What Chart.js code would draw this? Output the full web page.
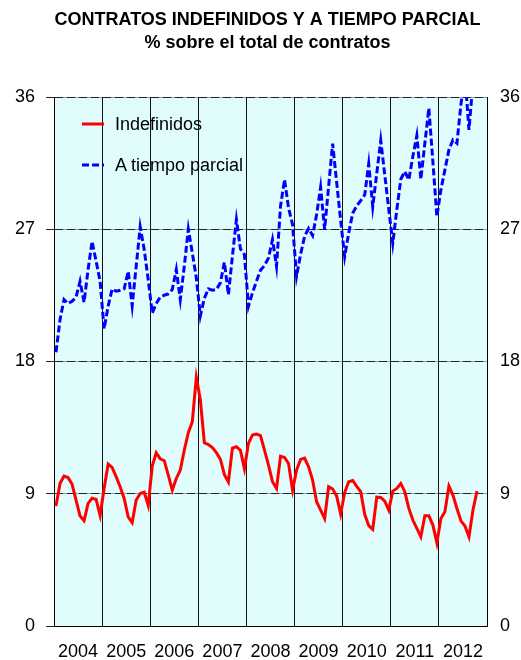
<!DOCTYPE html>
<html>
<head>
<meta charset="utf-8">
<script src="https://cdn.jsdelivr.net/npm/chart.js@4.4.0/dist/chart.umd.min.js"></script>
<style>
  html, body { margin: 0; padding: 0; background: #fff; }
  #wrap { position: relative; width: 521px; height: 660px; }
  #legend { position: absolute; left: 82px; top: 112px; font: 18px 'Liberation Sans', Arial, sans-serif; color: #000; }
  #legend .row { display: flex; align-items: center; height: 24px; white-space: nowrap; }
  #legend .row + .row { margin-top: 17px; }
  #legend svg { margin-right: 11px; }
</style>
</head>
<body>
<div id="wrap">
  <canvas id="chart" width="521" height="660"></canvas>
  <div id="legend">
    <div class="row"><svg width="22" height="4"><line x1="0" y1="2" x2="22" y2="2" stroke="#ff0000" stroke-width="3"/></svg>Indefinidos</div>
    <div class="row"><svg width="22" height="4"><line x1="0" y1="2" x2="22" y2="2" stroke="#0000ff" stroke-width="3" stroke-dasharray="7,3"/></svg>A tiempo parcial</div>
  </div>
</div>
<script>
// --- Data (monthly, Jan 2004 .. Oct 2012) ---
const years = ['2004', '2005', '2006', '2007', '2008', '2009', '2010', '2011', '2012'];

const indefinidos = [
  8.16, 9.7, 10.2, 10.1, 9.66, 8.57, 7.48, 7.16, 8.34, 8.7, 8.61, 7.52,
  9.36, 11.02, 10.79, 10.16, 9.48, 8.68, 7.43, 7.03, 8.57, 9.02, 9.11, 8.21,
  10.88, 11.79, 11.38, 11.25, 10.27, 9.25, 10.04, 10.61, 11.97, 13.15, 13.9, 16.92,
  15.4, 12.47, 12.35, 12.15, 11.8, 11.35, 10.3, 9.8, 12.1, 12.2, 11.95, 10.7,
  12.43, 12.99, 13.06, 12.95, 11.97, 10.95, 9.82, 9.36, 11.56, 11.47, 11.06, 9.25,
  10.61, 11.34, 11.43, 10.84, 9.93, 8.46, 7.89, 7.32, 9.48, 9.32, 8.84, 7.62,
  9.08, 9.82, 9.9, 9.5, 9.14, 7.6, 6.83, 6.57, 8.77, 8.75, 8.5, 7.89,
  9.18, 9.36, 9.7, 9.14, 8.0, 7.21, 6.64, 6.07, 7.5, 7.5, 6.87, 5.66,
  7.32, 7.77, 9.52, 8.91, 8.0, 7.16, 6.8, 6.07, 7.89, 9.18
];

const parcial = [
  18.63, 20.85, 22.21, 21.94, 22.1, 22.37, 23.46, 22.03, 24.25, 26.18, 24.82, 23.46,
  20.22, 21.76, 22.94, 22.78, 22.85, 22.94, 24.14, 21.8, 24.48, 27.16, 25.62, 23.57,
  21.3, 21.94, 22.39, 22.51, 22.6, 22.89, 24.25, 22.21, 24.48, 27.02, 25.39, 23.69,
  21.1, 22.3, 22.94, 22.85, 22.9, 23.35, 24.75, 22.55, 25.16, 27.66, 25.66, 25.28,
  21.76, 22.67, 23.46, 24.21, 24.53, 25.05, 26.3, 24.48, 28.57, 30.38, 28.45, 27.32,
  23.8, 25.28, 26.52, 27.05, 26.57, 28.0, 29.86, 26.98, 29.93, 32.83, 30.2, 27.6,
  25.14, 26.73, 28.09, 28.59, 28.95, 29.34, 31.45, 28.54, 30.8, 33.04, 30.7, 28.36,
  26.05, 28.32, 30.4, 30.93, 30.36, 31.95, 33.38, 30.4, 32.85, 35.24, 31.6, 27.86,
  29.68, 31.04, 32.4, 33.08, 32.85, 35.5, 37.5, 33.76, 37.0, 37.2
];

const FONT = "'Liberation Sans', Arial, sans-serif";
const CLEAR = 'rgba(0,0,0,0)';

// month i sits in the middle of its slot
const toPoints = arr => arr.map((v, i) => ({ x: i + 0.5, y: v }));

// light cyan plot background
const areaBg = {
  id: 'areaBg',
  beforeDraw(chart) {
    const { ctx, chartArea: a } = chart;
    ctx.save();
    ctx.fillStyle = '#e0fcfc';
    ctx.fillRect(a.left, a.top, a.width, a.height);
    ctx.restore();
  }
};

new Chart(document.getElementById('chart'), {
  type: 'line',
  data: {
    datasets: [
      { label: 'Indefinidos', data: toPoints(indefinidos), borderColor: '#ff0000', borderWidth: 3,
        pointRadius: 0, tension: 0, yAxisID: 'y' },
      { label: 'A tiempo parcial', data: toPoints(parcial), borderColor: '#0000ff', borderWidth: 3,
        borderDash: [7, 3], pointRadius: 0, tension: 0, yAxisID: 'y' }
    ]
  },
  options: {
    responsive: false,
    animation: false,
    layout: { padding: { left: 15, right: 1, top: 0, bottom: 0 } },
    plugins: {
      legend: { display: false },
      tooltip: { enabled: false },
      title: {
        display: true,
        text: ['CONTRATOS INDEFINIDOS Y A TIEMPO PARCIAL', '% sobre el total de contratos'],
        color: '#000',
        font: { family: FONT, size: 18, weight: 'bold', lineHeight: 23 / 18 },
        padding: { top: 9, bottom: 42 }
      }
    },
    scales: {
      x: {
        type: 'linear', min: 0, max: 108,
        afterFit: s => { s.height = 34; },
        ticks: {
          stepSize: 6, autoSkip: false, maxRotation: 0, minRotation: 0, padding: 17, color: '#000',
          font: { family: FONT, size: 18, lineHeight: 1 },
          callback: v => (v % 12 === 6 ? years[(v - 6) / 12] : '')
        },
        grid: { drawTicks: false, color: c => (c.tick && c.tick.value % 12 === 0 ? '#111' : CLEAR) },
        border: { display: true, color: '#000' }
      },
      y: {
        position: 'left', min: 0, max: 36,
        afterFit: s => { s.width = 39; },
        ticks: { stepSize: 9, padding: 11, color: '#000', font: { family: FONT, size: 18 } },
        grid: { color: c => (c.tick && c.tick.value === 0 ? CLEAR : '#222'), tickColor: '#222', tickLength: 8 },
        border: { display: true, color: '#000', dash: [8, 4] }
      },
      y1: {
        position: 'right', min: 0, max: 36,
        afterFit: s => { s.width = 33; },
        ticks: { stepSize: 9, padding: 13, color: '#000', font: { family: FONT, size: 18 } },
        grid: { drawTicks: false, z: -2, color: c => (c.tick && c.tick.value === 0 ? CLEAR : '#8a9c9c') },
        border: { display: true, color: '#000' }
      }
    }
  },
  plugins: [areaBg]
});
</script>
</body>
</html>
